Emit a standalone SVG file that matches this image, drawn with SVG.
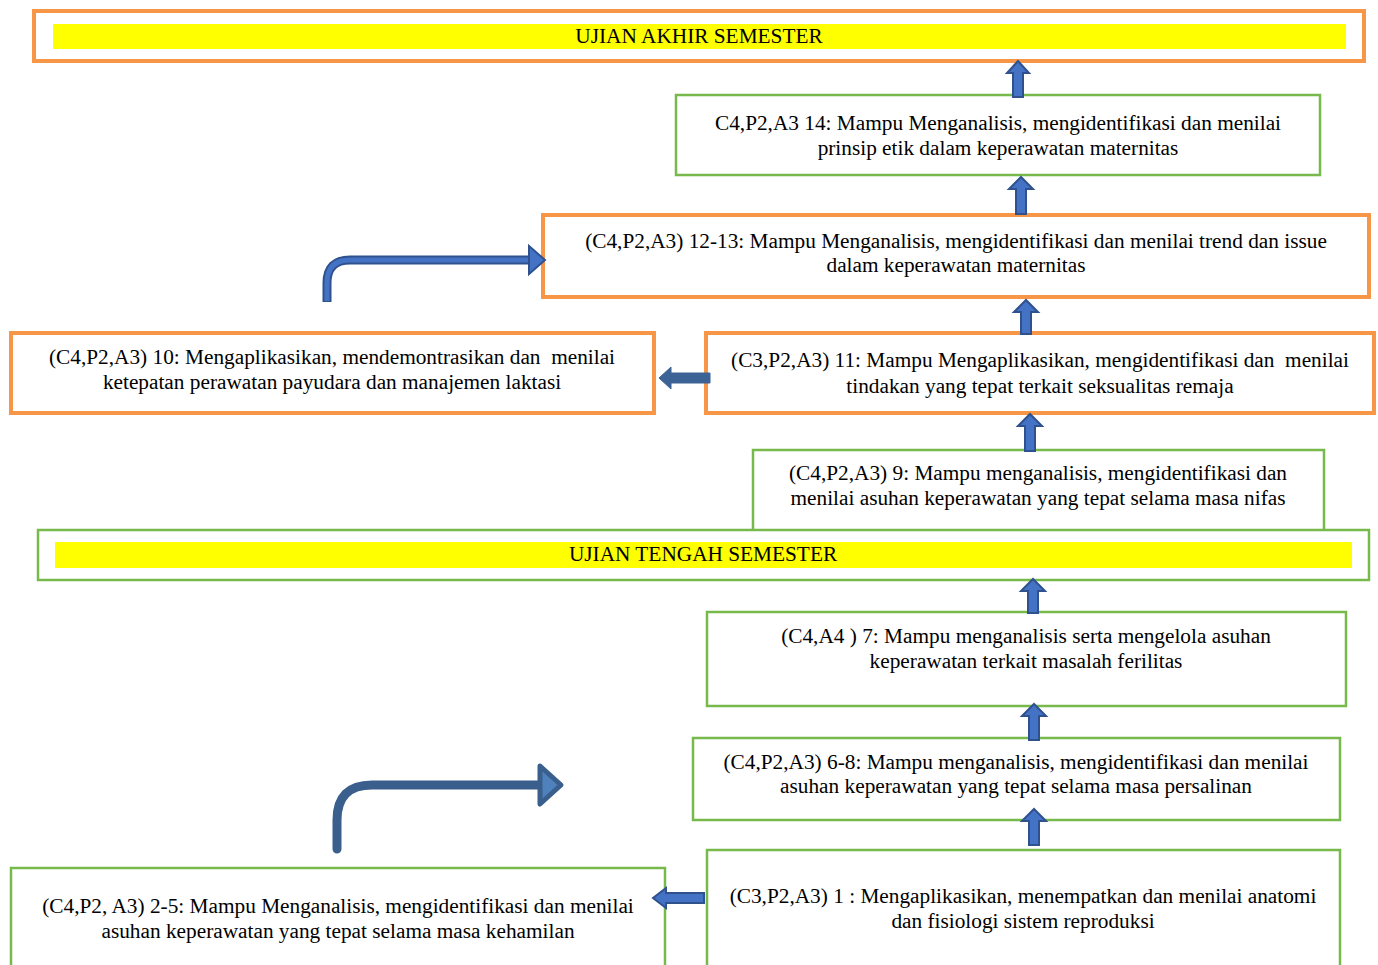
<svg xmlns="http://www.w3.org/2000/svg" width="1378" height="965" viewBox="0 0 1378 965">
<defs>
<style>
.o{fill:#fff;stroke:#F79646;stroke-width:4}
.g{fill:#fff;stroke:#77B94A;stroke-width:2.5}
.y{fill:#FFFF00}
.t{font-family:"Liberation Serif","Times New Roman",serif;font-size:21.3px;fill:#000;text-anchor:middle;white-space:pre}
.a{fill:#4472C4;stroke:#2F528F;stroke-width:2;stroke-linejoin:miter}
.d{fill:#3D6396;stroke:#3D6396;stroke-width:1}
</style>
</defs>
<rect width="1378" height="965" fill="#fff"/>
<g id="uas">
<rect class="o" x="34" y="11" width="1330" height="50"/>
<rect class="y" x="53" y="24" width="1293" height="25"/>
<text class="t" x="699" y="43">UJIAN AKHIR SEMESTER</text>
</g>
<g id="n14">
<rect class="g" x="676" y="95" width="644" height="80"/>
<text class="t" x="998" y="130">C4,P2,A3 14: Mampu Menganalisis, mengidentifikasi dan menilai</text>
<text class="t" x="998" y="155">prinsip etik dalam keperawatan maternitas</text>
</g>
<g id="n1213">
<rect class="o" x="543" y="215" width="826" height="82"/>
<text class="t" x="956" y="248">(C4,P2,A3) 12-13: Mampu Menganalisis, mengidentifikasi dan menilai trend dan issue</text>
<text class="t" x="956" y="272">dalam keperawatan maternitas</text>
</g>
<g id="n10">
<rect class="o" x="11" y="333" width="643" height="80"/>
<text class="t" x="332" y="364" xml:space="preserve">(C4,P2,A3) 10: Mengaplikasikan, mendemontrasikan dan  menilai</text>
<text class="t" x="332" y="389">ketepatan perawatan payudara dan manajemen laktasi</text>
</g>
<g id="n11">
<rect class="o" x="706" y="333" width="668" height="80"/>
<text class="t" x="1040" y="367" xml:space="preserve">(C3,P2,A3) 11: Mampu Mengaplikasikan, mengidentifikasi dan  menilai</text>
<text class="t" x="1040" y="393">tindakan yang tepat terkait seksualitas remaja</text>
</g>
<g id="n9">
<rect class="g" x="753" y="450" width="571" height="90"/>
<text class="t" x="1038" y="480">(C4,P2,A3) 9: Mampu menganalisis, mengidentifikasi dan</text>
<text class="t" x="1038" y="505">menilai asuhan keperawatan yang tepat selama masa nifas</text>
</g>
<g id="uts">
<rect class="g" x="38" y="530" width="1331" height="50"/>
<rect class="y" x="55" y="542" width="1297" height="26"/>
<text class="t" x="703" y="561">UJIAN TENGAH SEMESTER</text>
</g>
<g id="n7">
<rect class="g" x="707" y="612" width="639" height="94"/>
<text class="t" x="1026" y="643">(C4,A4 ) 7: Mampu menganalisis serta mengelola asuhan</text>
<text class="t" x="1026" y="668">keperawatan terkait masalah ferilitas</text>
</g>
<g id="n68">
<rect class="g" x="693" y="738" width="647" height="82"/>
<text class="t" x="1016" y="769">(C4,P2,A3) 6-8: Mampu menganalisis, mengidentifikasi dan menilai</text>
<text class="t" x="1016" y="793">asuhan keperawatan yang tepat selama masa persalinan</text>
</g>
<g id="n1">
<rect class="g" x="707" y="850" width="633" height="130"/>
<text class="t" x="1023" y="903">(C3,P2,A3) 1 : Mengaplikasikan, menempatkan dan menilai anatomi</text>
<text class="t" x="1023" y="928">dan fisiologi sistem reproduksi</text>
</g>
<g id="n25">
<rect class="g" x="11" y="868" width="654" height="110"/>
<text class="t" x="338" y="913">(C4,P2, A3) 2-5: Mampu Menganalisis, mengidentifikasi dan menilai</text>
<text class="t" x="338" y="938">asuhan keperawatan yang tepat selama masa kehamilan</text>
</g>
<g id="connectors">
<polygon class="a" points="1013,97 1013,73 1007,73 1018,61 1029,73 1023,73 1023,97"/>
<polygon class="a" points="1016,214 1016,189 1009,189 1021,177 1033,189 1026,189 1026,214"/>
<polygon class="a" points="1021,334 1021,312 1014,312 1026,300 1038,312 1031,312 1031,334"/>
<polygon class="a" points="1025,451 1025,426 1018,426 1030,414 1042,426 1035,426 1035,451"/>
<polygon class="a" points="1028,613 1028,591 1021,591 1033,579 1045,591 1038,591 1038,613"/>
<polygon class="a" points="1029,740 1029,716 1022,716 1034,704 1046,716 1039,716 1039,740"/>
<polygon class="a" points="1029,845 1029,821 1022,821 1034,809 1046,821 1039,821 1039,845"/>
<polygon class="d" points="710,373 671,373 671,367 659,378 671,389 671,383 710,383"/>
<polygon class="a" points="704,893 666,893 666,888 653,898 666,908 666,903 704,903"/>
<path d="M327,302 V283 Q327,260 350,260 H531" fill="none" stroke="#2F528F" stroke-width="9"/>
<path d="M327,301 V283 Q327,260 350,260 H532" fill="none" stroke="#4472C4" stroke-width="5"/>
<polygon class="a" points="529,246 545,260 529,274"/>
<path d="M337,849 V820 Q337,785 372,785 H540" fill="none" stroke="#3A5F8D" stroke-width="9" stroke-linecap="round"/>
<polygon points="540,766 561,785 540,804" fill="#4F81BD" stroke="#3A5F8D" stroke-width="5" stroke-linejoin="round"/>
</g>
</svg>
